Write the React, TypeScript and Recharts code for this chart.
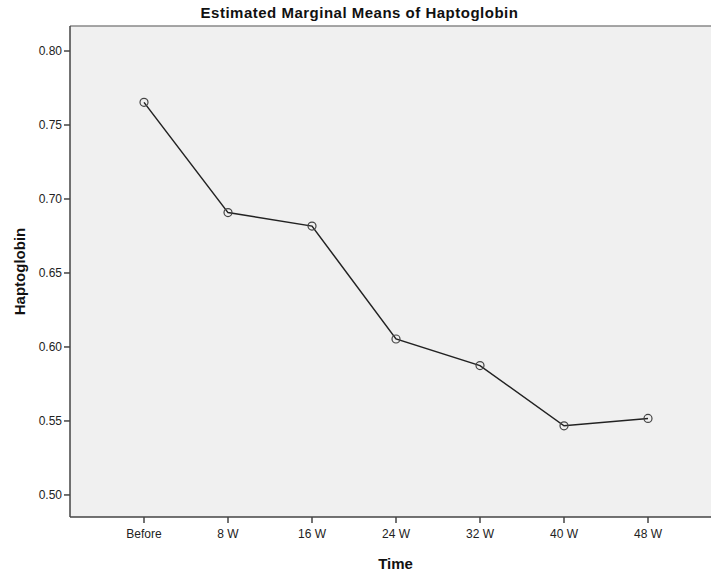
import { LineChart, Line, XAxis, YAxis, CartesianGrid, ReferenceLine } from "recharts"

const times = ["Before", "8 W", "16 W", "24 W", "32 W", "40 W", "48 W"]
const means = [0.7653, 0.6908, 0.6817, 0.6054, 0.5874, 0.5467, 0.5517]
const yTicks = [0.5, 0.55, 0.6, 0.65, 0.7, 0.75, 0.8]

const data = times.map((t, i) => ({ idx: i, time: t, mean: means[i] }))
const font = "'Liberation Sans', Arial, sans-serif"

export default function App() {
  return (
    <div style={{ position: "absolute", left: 0, top: 0, width: 711, height: 575, background: "#fff", fontFamily: font }}>
      <div style={{ position: "absolute", left: 0, width: 711, top: 4, textAlign: "center", paddingLeft: 8, boxSizing: "border-box", fontSize: 15, letterSpacing: 0.5, fontWeight: 700, color: "#111" }}>
        Estimated Marginal Means of Haptoglobin
      </div>
      <LineChart width={711} height={575} data={data} margin={{ top: 26, right: 0, bottom: 0, left: 0 }}>
        <CartesianGrid fill="#f0f0f0" horizontal={false} vertical={false} />
        <XAxis type="number" dataKey="idx" domain={[-0.881, 6.75]} ticks={[0, 1, 2, 3, 4, 5, 6]} allowDataOverflow
          tickFormatter={(v: number) => times[v]} height={58} tickSize={6}
          axisLine={{ stroke: "#444", strokeWidth: 1.5 }} tickLine={{ stroke: "#444", strokeWidth: 1.5 }}
          tick={{ fontSize: 12, fill: "#222", fontFamily: font, dy: 4 }}
          label={{ value: "Time", position: "insideBottom", offset: 6, dx: 5, fontSize: 15, fontWeight: 700, fill: "#111", fontFamily: font }} />
        <YAxis type="number" domain={[0.4851, 0.8169]} ticks={yTicks} allowDataOverflow width={70} tickSize={6}
          tickFormatter={(v: number) => v.toFixed(2)}
          axisLine={{ stroke: "#444", strokeWidth: 1.5 }} tickLine={{ stroke: "#444", strokeWidth: 1.5 }}
          tick={{ fontSize: 12, fill: "#222", fontFamily: font }}
          label={{ value: "Haptoglobin", angle: -90, position: "insideLeft", offset: 20, fontSize: 15, fontWeight: 700, fill: "#111", fontFamily: font, style: { textAnchor: "middle" } }} />
        <ReferenceLine y={0.8169} stroke="#888" strokeWidth={1.5} />
        <Line type="linear" dataKey="mean" stroke="#222" strokeWidth={1.5} isAnimationActive={false}
          dot={{ r: 4, stroke: "#444", strokeWidth: 1.2, fill: "none" }} activeDot={false} />
      </LineChart>
    </div>
  )
}
